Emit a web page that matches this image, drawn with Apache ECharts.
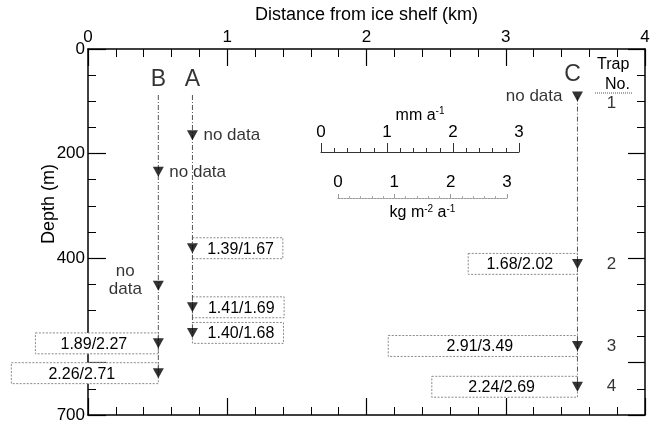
<!DOCTYPE html>
<html>
<head>
<meta charset="utf-8">
<script src="https://cdn.jsdelivr.net/npm/echarts@6/dist/echarts.min.js"></script>
<style>
html,body{margin:0;padding:0;background:#fff;}
#chart{width:658px;height:421px;}
</style>
</head>
<body>
<div id="chart"></div>
<script>
// ---------------- data ----------------
const stationNames = ['B', 'A', 'C'];
const stationDistKm = [0.505, 0.75, 3.515];
const stationLineTop = [88, 88, 91];

const trapDepthsB = [235, 453, 563, 620];
const trapDepthsA = [165, 381, 494, 543];
const trapDepthsC = [91, 411, 568, 646];

const fluxMmB = [null, null, 1.89, 2.26];
const fluxKgB = [null, null, 2.27, 2.71];
const fluxMmA = [null, 1.39, 1.41, 1.40];
const fluxKgA = [null, 1.67, 1.69, 1.68];
const fluxMmC = [null, 1.68, 2.91, 2.24];
const fluxKgC = [null, 2.02, 3.49, 2.69];

const trapNumbers = ['1', '2', '3', '4'];
const trapNumberDepths = [103, 411, 568, 646];
const trapNumberDistKm = 3.76;

const depthLabels = [0, 200, 400, 700];
const kmPerMm = 0.467; // length on the distance axis of 1 mm a-1 (scale bar)

// ---------------- build ----------------
const FONT = "'Liberation Sans', Arial, Helvetica, sans-serif";
const W = 658, H = 421;
const G = { left: 88, right: 13, top: 49, bottom: 6 };
const plotW = W - G.left - G.right;
const plotH = H - G.top - G.bottom;

const depths = [trapDepthsB, trapDepthsA, trapDepthsC];
const fluxMm = [fluxMmB, fluxMmA, fluxMmC];
const fluxKg = [fluxKgB, fluxKgA, fluxKgC];
const barDir = [-1, 1, -1];

const barData = [];
const markerData = [];
const noData = [];
stationNames.forEach((s, i) => {
  depths[i].forEach((d, j) => {
    markerData.push([stationDistKm[i], d]);
    if (fluxMm[i][j] == null) {
      noData.push({ st: i, idx: j, value: [stationDistKm[i], d] });
    } else {
      barData.push([stationDistKm[i], d, fluxMm[i][j], fluxKg[i][j], barDir[i]]);
    }
  });
});

function noDataLabel(item) {
  if (item.st === 0 && item.idx === 1) {
    return { show: true, position: 'left', distance: 12, formatter: 'no\ndata', align: 'center', lineHeight: 18, offset: [-16, -6] };
  }
  if (item.st === 2) return { show: true, position: 'left', distance: 10, formatter: 'no data' };
  return { show: true, position: 'right', distance: 6, formatter: 'no data' };
}

const lineSeries = stationNames.map((s, i) => ({
  type: 'line',
  xAxisIndex: 0, yAxisIndex: 0,
  data: [[stationDistKm[i], stationLineTop[i]], [stationDistKm[i], depths[i][depths[i].length - 1]]],
  symbol: 'none',
  silent: true,
  lineStyle: { color: '#555', width: 1, type: [5, 2, 1, 2] },
  z: 2
}));

const hidden = { color: 'rgba(0,0,0,0)' };
function blackLine() { return { show: true, onZero: false, lineStyle: { color: '#000', width: 1.5 } }; }
function noLine() { return { show: false, onZero: false }; }
// tick-only axes; a bottom / left axis with inward ticks, shifted by offset so the ticks end on the top / right edge
function tickAxisX(offset, interval, len) {
  return {
    gridIndex: 0, type: 'value', position: 'bottom', offset: offset, min: 0, max: 4, interval: interval,
    axisLine: noLine(),
    axisTick: { show: true, inside: true, length: len, lineStyle: { color: '#000', width: len > 10 ? 1.2 : 1 } },
    axisLabel: { show: false },
    splitLine: { show: false }
  };
}
function tickAxisY(offset, interval, len) {
  return {
    gridIndex: 0, type: 'value', position: 'left', offset: offset, inverse: true, min: 0, max: 700, interval: interval,
    axisLine: noLine(),
    axisTick: { show: true, inside: true, length: len, lineStyle: { color: '#000', width: len > 10 ? 1.2 : 1 } },
    axisLabel: { show: false }, splitLine: { show: false }
  };
}

const option = {
  animation: false,
  backgroundColor: '#fff',
  textStyle: { fontFamily: FONT, color: '#000' },
  grid: [
    { left: G.left, right: G.right, top: G.top, bottom: G.bottom, outerBoundsMode: 'none', containLabel: false },
    { left: 321, width: 198, top: 152, height: 1, outerBoundsMode: 'none', containLabel: false },
    { left: 338, width: 169, top: 198, height: 1, outerBoundsMode: 'none', containLabel: false }
  ],
  xAxis: [
    {
      gridIndex: 0, type: 'value', position: 'top', min: 0, max: 4, interval: 1,
      name: 'Distance from ice shelf (km)', nameLocation: 'middle', nameGap: 22,
      nameTextStyle: { fontSize: 18, color: '#000', fontFamily: FONT },
      axisLine: blackLine(),
      axisTick: { show: false },
      axisLabel: { show: true, fontSize: 17, color: '#000', margin: 3, fontFamily: FONT },
      splitLine: { show: false }
    },
    {
      gridIndex: 0, type: 'value', position: 'bottom', min: 0, max: 4, interval: 1,
      axisLine: blackLine(),
      axisTick: { show: true, inside: true, length: 17, lineStyle: { color: '#000', width: 1.2 } },
      minorTick: { show: true, splitNumber: 5, length: 8, lineStyle: { color: '#000', width: 1 } },
      axisLabel: { show: false },
      splitLine: { show: false }
    },
    {
      gridIndex: 1, type: 'value', position: 'top', min: 0, max: 3, interval: 1,
      name: 'mm a{sup|-1}', nameLocation: 'middle', nameGap: 18,
      nameTextStyle: { fontSize: 16, color: '#000', fontFamily: FONT, rich: { sup: { fontSize: 10, verticalAlign: 'top', padding: [0, 0, 8, 0] } } },
      axisLine: { show: true, onZero: false, lineStyle: { color: '#333', width: 1 } },
      axisTick: { show: true, length: 9, lineStyle: { color: '#333', width: 1 } },
      minorTick: { show: true, splitNumber: 5, length: 4, lineStyle: { color: '#333', width: 1 } },
      axisLabel: { fontSize: 17, color: '#000', margin: 11, fontFamily: FONT },
      splitLine: { show: false }
    },
    {
      gridIndex: 2, type: 'value', position: 'top', min: 0, max: 3, interval: 1,
      axisLine: { show: true, onZero: false, lineStyle: { color: '#999', width: 1, type: [2, 1] } },
      axisTick: { show: true, length: 4, lineStyle: { color: '#999', width: 1 } },
      minorTick: { show: true, splitNumber: 5, length: 2, lineStyle: { color: '#aaa', width: 1 } },
      axisLabel: { fontSize: 17, color: '#000', margin: 7, fontFamily: FONT },
      splitLine: { show: false }
    },
    {
      gridIndex: 2, type: 'value', position: 'bottom', min: 0, max: 3,
      name: 'kg m{sup|-2} a{sup|-1}', nameLocation: 'middle', nameGap: 5,
      nameTextStyle: { fontSize: 16, color: '#000', fontFamily: FONT, rich: { sup: { fontSize: 10, verticalAlign: 'top', padding: [0, 0, 8, 0] } } },
      axisLine: noLine(), axisTick: { show: false }, axisLabel: { show: false }, splitLine: { show: false }
    },
    tickAxisX(-(plotH - 17), 1, 17),
    tickAxisX(-(plotH - 8), 0.2, 8)
  ],
  yAxis: [
    {
      gridIndex: 0, type: 'value', position: 'left', inverse: true, min: 0, max: 700, interval: 50,
      name: 'Depth (m)', nameLocation: 'middle', nameGap: 30, nameRotate: 90, nameMoveOverlap: false,
      nameTextStyle: { fontSize: 18, color: '#000', fontFamily: FONT, padding: [0, 0, 0, 56] },
      axisLine: blackLine(),
      axisTick: { show: true, inside: true, length: 8, lineStyle: { color: '#000', width: 1 } },
      axisLabel: { fontSize: 17, color: '#000', margin: 3, fontFamily: FONT,
        formatter: v => depthLabels.indexOf(v) >= 0 ? String(v) : '' },
      splitLine: { show: false }
    },
    tickAxisY(0, 200, 18),
    {
      gridIndex: 0, type: 'value', position: 'right', inverse: true, min: 0, max: 700, interval: 50,
      axisLine: blackLine(),
      axisTick: { show: false },
      axisLabel: { show: false }, splitLine: { show: false }
    },
    tickAxisY(-(plotW - 17), 200, 17),
    tickAxisY(-(plotW - 8), 50, 8),
    { gridIndex: 1, type: 'value', show: false, min: 0, max: 1, axisLine: noLine() },
    { gridIndex: 2, type: 'value', show: false, min: 0, max: 1, axisLine: noLine() }
  ],
  graphic: [
    { type: 'text', left: 597, top: 57, style: { text: 'Trap', font: '16px ' + FONT, fill: '#000' } },
    { type: 'text', left: 605, top: 77, style: { text: 'No.', font: '16px ' + FONT, fill: '#000' } },
    { type: 'line', shape: { x1: 595, y1: 93, x2: 632, y2: 93 }, style: { stroke: '#555', lineWidth: 1, lineDash: [1, 1] } }
  ],
  series: [
    {
      type: 'custom',
      xAxisIndex: 0, yAxisIndex: 0,
      data: barData,
      z: 1,
      silent: true,
      renderItem: function (params, api) {
        const x0 = api.value(0), d = api.value(1), mm = api.value(2), kg = api.value(3), dir = api.value(4);
        const x1 = x0 + dir * mm * kmPerMm;
        const p0 = api.coord([Math.min(x0, x1), d - 20]);
        const p1 = api.coord([Math.max(x0, x1), d + 20]);
        return {
          type: 'group',
          children: [
            { type: 'rect', shape: { x: p0[0], y: p0[1], width: p1[0] - p0[0], height: p1[1] - p0[1] },
              style: { fill: '#fff', stroke: '#8a8a8a', lineWidth: 1, lineDash: [2, 1.5] } },
            { type: 'text', style: { text: mm.toFixed(2) + '/' + kg.toFixed(2), x: (p0[0] + p1[0]) / 2 + dir * 3, y: (p0[1] + p1[1]) / 2 + 1,
                align: 'center', verticalAlign: 'middle', fontSize: 16, fontFamily: FONT, fill: '#000' } }
          ]
        };
      }
    },
    ...lineSeries,
    {
      type: 'scatter',
      xAxisIndex: 0, yAxisIndex: 0,
      data: markerData,
      symbol: 'triangle', symbolSize: [11, 10], symbolRotate: 180,
      itemStyle: { color: '#000' },
      z: 5, silent: true
    },
    {
      type: 'scatter',
      xAxisIndex: 0, yAxisIndex: 0,
      data: noData.map(n => ({ value: n.value, label: noDataLabel(n) })),
      symbol: 'circle', symbolSize: 10,
      itemStyle: hidden,
      label: { show: true, fontSize: 17, color: '#000', fontFamily: FONT },
      z: 6, silent: true
    },
    {
      type: 'scatter',
      xAxisIndex: 0, yAxisIndex: 0,
      data: stationNames.map((s, i) => ({ value: [stationDistKm[i] + (i === 2 ? -0.035 : 0), i === 2 ? 50 : 59], name: s })),
      symbol: 'circle', symbolSize: 2,
      itemStyle: hidden,
      label: { show: true, position: 'inside', formatter: '{b}', fontSize: 23, color: '#000', fontFamily: FONT },
      z: 6, silent: true
    },
    {
      type: 'scatter',
      xAxisIndex: 0, yAxisIndex: 0,
      data: trapNumbers.map((t, i) => ({ value: [trapNumberDistKm, trapNumberDepths[i]], name: t })),
      symbol: 'circle', symbolSize: 2,
      itemStyle: hidden,
      label: { show: true, position: 'inside', formatter: '{b}', fontSize: 17, color: '#000', fontFamily: FONT },
      z: 6, silent: true
    }
  ]
};

const chart = echarts.init(document.getElementById('chart'), null, { renderer: 'canvas' });
chart.setOption(option);
</script>
</body>
</html>
